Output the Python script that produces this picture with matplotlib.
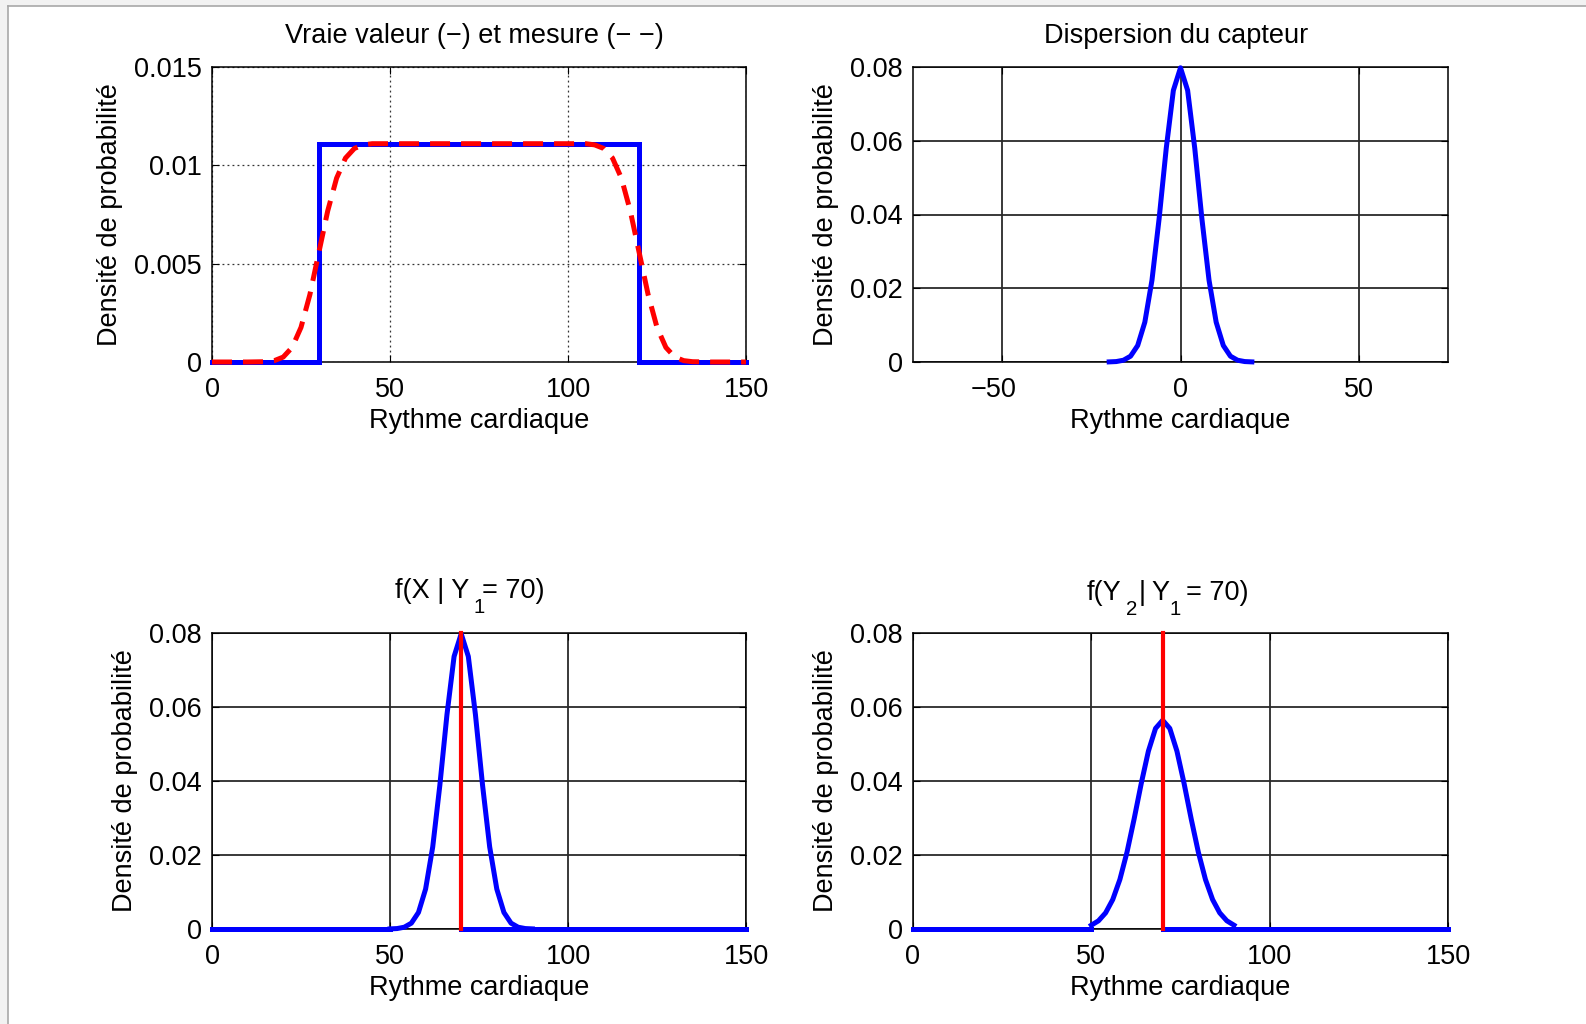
import matplotlib
matplotlib.use("Agg")
import matplotlib.pyplot as plt
from matplotlib.patches import Rectangle
from matplotlib.lines import Line2D
from matplotlib.transforms import ScaledTranslation

plt.rcParams['font.family'] = ['Liberation Sans', 'DejaVu Sans']
plt.rcParams['axes.unicode_minus'] = True

# ---------------- data ----------------
# Panel 1: true value (uniform) and measurement (smoothed)
true_x = [0, 30, 30, 120, 120, 150]
true_y = [0, 0, 0.0111, 0.0111, 0, 0]
meas_x = [0, 5, 10, 15, 17.5, 20, 22.5, 25, 27.5, 30, 32.5, 35, 37.5, 40, 42.5, 45,
          105, 107.5, 110, 112.5, 115, 117.5, 120, 122.5, 125, 127.5, 130, 132.5, 135, 140, 145, 150]
meas_y = [0, 0, 0, 0.000015, 0.000069, 0.00025, 0.00074, 0.00176, 0.00343, 0.00556,
          0.00768, 0.00935, 0.01037, 0.01086, 0.01104, 0.0111,
          0.0111, 0.01104, 0.01086, 0.01037, 0.00935, 0.00768, 0.00556, 0.00343,
          0.00176, 0.00074, 0.00025, 0.000069, 0.000015, 0, 0, 0]

# Panel 2: sensor dispersion
disp_x = [-20, -18, -16, -14, -12, -10, -8, -6, -4, -2, 0, 2, 4, 6, 8, 10, 12, 14, 16, 18, 20]
disp_y = [0.00003, 0.00012, 0.00048, 0.00158, 0.00448, 0.01080, 0.02218, 0.03884, 0.05794, 0.07366,
          0.07979, 0.07366, 0.05794, 0.03884, 0.02218, 0.01080, 0.00448, 0.00158, 0.00048, 0.00012, 0.00003]

# Panel 3: f(X | Y1 = 70)
post_x = [50, 52, 54, 56, 58, 60, 62, 64, 66, 68, 70, 72, 74, 76, 78, 80, 82, 84, 86, 88, 90]
post_y = [0.00003, 0.00012, 0.00048, 0.00158, 0.00448, 0.01080, 0.02218, 0.03884, 0.05794, 0.07366,
          0.07979, 0.07366, 0.05794, 0.03884, 0.02218, 0.01080, 0.00448, 0.00158, 0.00048, 0.00012, 0.00003]

# Panel 4: f(Y2 | Y1 = 70)
pred_x = [50, 52, 54, 56, 58, 60, 62, 64, 66, 68, 70, 72, 74, 76, 78, 80, 82, 84, 86, 88, 90]
pred_y = [0.00103, 0.00221, 0.00436, 0.00795, 0.01337, 0.02076, 0.02975, 0.03936, 0.04808, 0.05421,
          0.05642, 0.05421, 0.04808, 0.03936, 0.02975, 0.02076, 0.01337, 0.00795, 0.00436, 0.00221, 0.00103]

base_left_x = [0, 50]
base_right_x = [70, 150]
obs_value = 70
obs_peak_post = 0.08
obs_peak_pred = 0.08

# title pieces: (text, is_subscript, extra gap in px after the piece)
title_parts = [
    [("Vraie valeur (\u2212) et mesure (\u2212 \u2212)", False, 0)],
    [("Dispersion du capteur", False, 0)],
    [("f(X | Y", False, 4), ("1", True, -2), ("= 70)", False, 0)],
    [("f(Y", False, 5), ("2", True, 2), ("|", False, 5), ("Y", False, 0),
     ("1", True, 6), ("= 70)", False, 0)],
]
xlabel = "Rythme cardiaque"
ylabel = "Densit\u00e9 de probabilit\u00e9"

# ---------------- figure ----------------
W, H = 1586, 1024
fig = plt.figure(figsize=(W / 100, H / 100), dpi=100)
fig.patch.set_facecolor('#f2f2f2')
fig.patches.append(Rectangle((8 / W, 0), 1 - 8 / W, 1 - 6 / H, transform=fig.transFigure,
                             facecolor='white', edgecolor='none', zorder=-10))
fig.lines.append(Line2D([7.5 / W, 7.5 / W], [0, 1 - 5.5 / H], transform=fig.transFigure,
                        color='#a8a8a8', lw=1.2))
fig.lines.append(Line2D([7.5 / W, 1], [1 - 5.5 / H, 1 - 5.5 / H], transform=fig.transFigure,
                        color='#a8a8a8', lw=1.2))

FS = 19.5
BLUE = '#0000ff'
RED = '#ff0000'
LW = 3.6

lefts = [212 / W, 913 / W]
widths = [534 / W, 535 / W]
bottoms = [1 - 362 / H, 1 - 929 / H]
heights = [295 / H, 296 / H]

axes = []
for r in range(2):
    for c in range(2):
        ax = fig.add_axes([lefts[c], bottoms[r], widths[c], heights[r]])
        axes.append(ax)

def style(ax, dotted):
    for s in ax.spines.values():
        s.set_linewidth(1.1)
        s.set_color('black')
    ax.tick_params(direction='in', length=5, width=0.8, labelsize=FS,
                   top=True, right=True)
    ax.tick_params(axis='x', pad=11)
    ax.tick_params(axis='y', pad=7.5)
    if dotted:
        ax.grid(True, linestyle=(0, (1.5, 2.5)), color='#333333', linewidth=0.9)
    else:
        ax.grid(True, linestyle='-', color='#2a2a2a', linewidth=1.3)
    ax.set_axisbelow(True)
    ax.set_xlabel(xlabel, fontsize=FS, labelpad=3.5)
    ax.set_ylabel(ylabel, fontsize=FS, labelpad=8)

# Panel 1
ax = axes[0]
ax.plot(true_x, true_y, color=BLUE, lw=LW, solid_joinstyle='miter', zorder=3)
ax.plot(meas_x, meas_y, color=RED, lw=LW, dashes=(4, 2.2), zorder=4)
ax.set_xlim(0, 150)
ax.set_ylim(0, 0.015)
ax.set_xticks([0, 50, 100, 150])
ax.set_yticks([0, 0.005, 0.01, 0.015])
ax.set_yticklabels(["0", "0.005", "0.01", "0.015"])
style(ax, True)

# Panel 2
ax = axes[1]
ax.plot(disp_x, disp_y, color=BLUE, lw=LW, zorder=3)
ax.set_xlim(-75, 75)
ax.set_ylim(0, 0.08)
ax.set_xticks([-50, 0, 50])
ax.set_yticks([0, 0.02, 0.04, 0.06, 0.08])
ax.set_yticklabels(["0", "0.02", "0.04", "0.06", "0.08"])
style(ax, False)
lab = ax.get_xticklabels()[0]
lab.set_transform(lab.get_transform() + ScaledTranslation(-9 / 100, 0, fig.dpi_scale_trans))

# Panel 3
ax = axes[2]
ax.plot(base_left_x, [0, 0], color=BLUE, lw=LW, zorder=3)
ax.plot(base_right_x, [0, 0], color=BLUE, lw=LW, zorder=3)
ax.plot(post_x, post_y, color=BLUE, lw=LW, zorder=3)
ax.plot([obs_value, obs_value], [0, obs_peak_post], color=RED, lw=3.0, zorder=4)
ax.set_xlim(0, 150)
ax.set_ylim(0, 0.08)
ax.set_xticks([0, 50, 100, 150])
ax.set_yticks([0, 0.02, 0.04, 0.06, 0.08])
ax.set_yticklabels(["0", "0.02", "0.04", "0.06", "0.08"])
style(ax, False)

# Panel 4
ax = axes[3]
ax.plot(base_left_x, [0, 0], color=BLUE, lw=LW, zorder=3)
ax.plot(base_right_x, [0, 0], color=BLUE, lw=LW, zorder=3)
ax.plot(pred_x, pred_y, color=BLUE, lw=LW, zorder=3)
ax.plot([obs_value, obs_value], [0, obs_peak_pred], color=RED, lw=3.0, zorder=4)
ax.set_xlim(0, 150)
ax.set_ylim(0, 0.08)
ax.set_xticks([0, 50, 100, 150])
ax.set_yticks([0, 0.02, 0.04, 0.06, 0.08])
ax.set_yticklabels(["0", "0.02", "0.04", "0.06", "0.08"])
style(ax, False)

for a in axes:
    for ln in a.get_lines():
        ln.set_clip_on(False)

# ---------------- titles (pieces with low subscripts) ----------------
renderer = fig.canvas.get_renderer()
baseline_above = [24, 24, 35, 33]     # px between text baseline and axes top
center_shift = [-5, -4, -9, -13]      # px shift of the group centre
SUB_FS = FS * 0.75
SUB_DROP = 15

for i, (ax, parts) in enumerate(zip(axes, title_parts)):
    pos = ax.get_position()
    texts, ws = [], []
    for s, sub, gap in parts:
        t = fig.text(0, 0, s, fontsize=SUB_FS if sub else FS, va='baseline', ha='left')
        ws.append(t.get_window_extent(renderer).width)
        texts.append(t)
    total = sum(ws) + sum(p[2] for p in parts[:-1])
    xc = (pos.x0 + pos.x1) / 2 * W + center_shift[i]
    x = xc - total / 2
    ybase = pos.y1 * H + baseline_above[i]
    for t, w, (s, sub, gap) in zip(texts, ws, parts):
        t.set_position((x / W, (ybase - (SUB_DROP if sub else 0)) / H))
        x += w + gap

fig.savefig("out.png", dpi=100, facecolor=fig.get_facecolor())
